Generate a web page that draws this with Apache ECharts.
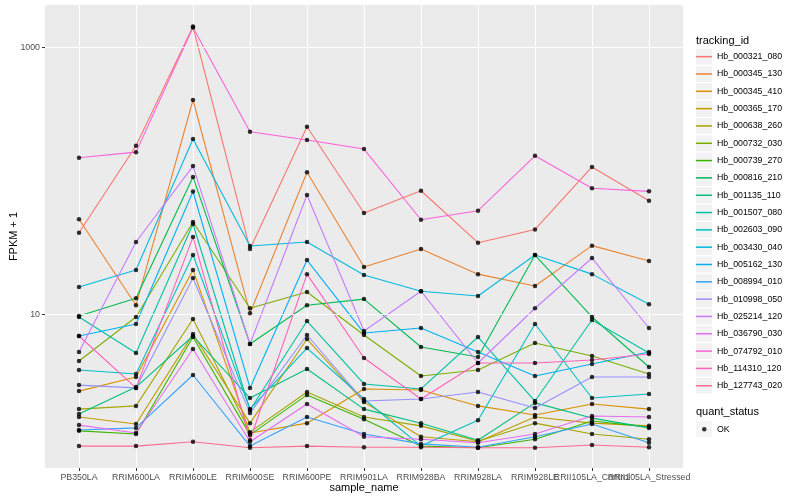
<!DOCTYPE html>
<html><head><meta charset="utf-8">
<script src="https://cdn.jsdelivr.net/npm/echarts@6/dist/echarts.min.js"></script>
<style>html,body{margin:0;padding:0;background:#fff}#c{width:800px;height:500px}</style>
</head><body><div id="c"></div>
<script>
const categories = ['PB350LA','RRIM600LA','RRIM600LE','RRIM600SE','RRIM600PE','RRIM901LA','RRIM928BA','RRIM928LA','RRIM928LE','RRII105LA_Control','RRII105LA_Stressed'];

const Hb_000321_080 = [40.8, 183, 1430, 30.8, 254, 57.4, 84.3, 34.4, 43.2, 127, 70.9];
const Hb_000345_130 = [51.5, 11.7, 403, 10.2, 116, 22.6, 30.8, 20.0, 16.3, 32.7, 25.1];
const Hb_000345_410 = [2.66, 3.39, 21.5, 1.29, 1.53, 2.76, 2.71, 2.06, 1.76, 2.13, 1.95];
const Hb_000365_170 = [1.70, 1.51, 7.11, 1.53, 6.53, 2.20, 1.21, 1.11, 1.70, 1.53, 1.46];
const Hb_000638_260 = [1.95, 2.06, 9.22, 1.31, 2.62, 1.70, 1.46, 1.12, 1.53, 1.27, 1.16];
const Hb_000732_030 = [4.47, 9.55, 49.1, 11.1, 14.7, 7.00, 3.45, 3.83, 6.10, 4.87, 3.57];
const Hb_000739_270 = [1.34, 1.27, 6.76, 1.25, 2.49, 1.64, 1.03, 1.00, 1.16, 1.59, 1.43];
const Hb_000816_210 = [9.70, 13.2, 107, 5.99, 11.7, 13.0, 5.69, 4.79, 27.8, 9.55, 4.03];
const Hb_001135_110 = [1.79, 2.85, 6.88, 2.36, 3.89, 1.95, 1.53, 1.14, 2.17, 1.67, 1.41];
const Hb_001507_080 = [9.55, 5.13, 47.5, 1.92, 8.91, 3.01, 2.76, 6.76, 2.24, 9.06, 5.13];
const Hb_002603_090 = [3.83, 3.57, 27.8, 1.95, 5.59, 2.32, 1.03, 1.61, 8.46, 2.36, 2.53];
const Hb_003430_040 = [16.0, 21.5, 206, 32.5, 34.8, 19.7, 14.9, 13.7, 27.8, 20.0, 11.9];
const Hb_005162_130 = [6.88, 8.46, 83.2, 2.81, 25.5, 7.24, 7.90, 5.22, 3.45, 4.24, 5.22];
const Hb_008994_010 = [1.36, 1.41, 3.51, 1.03, 1.70, 1.27, 1.07, 1.01, 1.21, 1.51, 1.09];
const Hb_010998_050 = [2.95, 2.81, 18.7, 1.82, 7.00, 2.24, 2.32, 2.62, 1.99, 3.39, 3.39];
const Hb_025214_120 = [5.22, 34.8, 129, 5.99, 78.3, 7.50, 14.9, 4.32, 11.1, 26.4, 7.90];
const Hb_036790_030 = [1.48, 1.29, 5.50, 1.11, 2.13, 1.21, 1.16, 1.09, 1.27, 1.73, 1.70];
const Hb_074792_010 = [149, 164, 1410, 233, 202, 173, 51.1, 59.7, 154, 87.9, 83.4];
const Hb_114310_120 = [6.88, 2.81, 37.9, 1.14, 20.0, 4.71, 2.32, 4.32, 4.32, 4.55, 5.04];
const Hb_127743_020 = [1.03, 1.03, 1.11, 1.00, 1.03, 1.01, 1.01, 1.00, 1.00, 1.05, 1.01];

const trackingIds = ['Hb_000321_080','Hb_000345_130','Hb_000345_410','Hb_000365_170','Hb_000638_260','Hb_000732_030','Hb_000739_270','Hb_000816_210','Hb_001135_110','Hb_001507_080','Hb_002603_090','Hb_003430_040','Hb_005162_130','Hb_008994_010','Hb_010998_050','Hb_025214_120','Hb_036790_030','Hb_074792_010','Hb_114310_120','Hb_127743_020'];
const seriesValues = [Hb_000321_080,Hb_000345_130,Hb_000345_410,Hb_000365_170,Hb_000638_260,Hb_000732_030,Hb_000739_270,Hb_000816_210,Hb_001135_110,Hb_001507_080,Hb_002603_090,Hb_003430_040,Hb_005162_130,Hb_008994_010,Hb_010998_050,Hb_025214_120,Hb_036790_030,Hb_074792_010,Hb_114310_120,Hb_127743_020];
const palette = ['#F8766D','#EA8331','#D89000','#C09B00','#A3A500','#7CAE00','#39B600','#00BB4E','#00BF7D','#00C1A3','#00BFC4','#00BAE0','#00B0F6','#35A2FF','#9590FF','#C77CFF','#E76BF3','#FA62DB','#FF62BC','#FF6C91'];
const yTickLabels = [10, 1000];
const quantStatus = 'OK';

const FONT = 'Liberation Sans, Arial, Helvetica, sans-serif';
const yMin = 0.706, yMax = 2075;

const chart = echarts.init(document.getElementById('c'), null, {renderer: 'canvas'});

const lineSeries = trackingIds.map((id, k) => ({
  name: id, type: 'line', xAxisIndex: 1, yAxisIndex: 1,
  data: seriesValues[k], showSymbol: false, symbol: 'none',
  lineStyle: {color: palette[k], width: 1.1}, itemStyle: {color: palette[k], borderWidth: 0},
  z: 3, silent: true, animation: false
}));

const pts = [];
seriesValues.forEach(vals => vals.forEach((v, i) => pts.push([i, v])));

const legendCommon = {
  orient: 'vertical', left: 696, top: 48, itemGap: 0, padding: 0, selectedMode: false,
  textStyle: {fontFamily: FONT, fontSize: 8.8, lineHeight: 17.32, color: '#000'}
};

const option = {
  animation: false,
  backgroundColor: '#fff',
  title: [
    {text: 'tracking_id', left: 696, top: 35.5, padding: 0, textStyle: {fontFamily: FONT, fontSize: 11, fontWeight: 'normal', color: '#000'}},
    {text: 'quant_status', left: 696, top: 406.5, padding: 0, textStyle: {fontFamily: FONT, fontSize: 11, fontWeight: 'normal', color: '#000'}}
  ],
  grid: [
    {left: 45, right: 117, top: 5, bottom: 32, show: true, backgroundColor: '#EBEBEB', borderWidth: 0, containLabel: false, outerBoundsMode: 'none'},
    {left: 79, right: 151, top: 5, bottom: 32, show: false, containLabel: false, outerBoundsMode: 'none'}
  ],
  xAxis: [
    {gridIndex: 0, type: 'value', min: 0, max: 1, show: false},
    {gridIndex: 1, type: 'category', data: categories, boundaryGap: false,
     axisLine: {show: false},
     axisTick: {show: true, length: 3, lineStyle: {color: '#333333', width: 1}},
     axisLabel: {interval: 0, color: '#4D4D4D', fontSize: 8.8, fontFamily: FONT, margin: 5, hideOverlap: false},
     splitLine: {show: true, interval: 0, lineStyle: {color: '#ffffff', width: 1.1}},
     name: 'sample_name', nameLocation: 'middle', nameGap: 14, nameMoveOverlap: false,
     nameTextStyle: {fontFamily: FONT, fontSize: 11, color: '#000'}}
  ],
  yAxis: [
    {gridIndex: 0, type: 'log', logBase: 10, min: yMin, max: yMax,
     axisLine: {show: false},
     axisTick: {show: true, length: 3, customValues: yTickLabels, lineStyle: {color: '#333333', width: 1}},
     axisLabel: {customValues: yTickLabels, color: '#4D4D4D', fontSize: 8.8, fontFamily: FONT, margin: 5,
       formatter: v => String(Math.round(v))},
     splitLine: {show: true, showMinLine: false, showMaxLine: false, lineStyle: {color: '#ffffff', width: 0.6}},
     name: 'FPKM + 1', nameLocation: 'middle', nameGap: 26, nameMoveOverlap: false,
     nameTextStyle: {fontFamily: FONT, fontSize: 11, color: '#000'}},
    {gridIndex: 1, type: 'log', logBase: 10, min: yMin, max: yMax, show: false, splitLine: {show: false}}
  ],
  legend: [
    Object.assign({}, legendCommon, {
      data: trackingIds.map(n => ({name: n, icon: 'rect', itemStyle: {color: '#F2F2F2', borderWidth: 0}})),
      itemWidth: 16, itemHeight: 16,
      textStyle: Object.assign({}, legendCommon.textStyle, {color: 'rgba(0,0,0,0)'})
    }),
    Object.assign({}, legendCommon, {
      data: trackingIds.map((n, k) => ({name: n, icon: 'rect', itemStyle: {color: palette[k], borderWidth: 0}})),
      itemWidth: 16, itemHeight: 1.5
    }),
    Object.assign({}, legendCommon, {
      top: 420.5,
      data: [{name: quantStatus, icon: 'rect', itemStyle: {color: '#F2F2F2', borderWidth: 0}}],
      itemWidth: 16, itemHeight: 16
    }),
    Object.assign({}, legendCommon, {
      top: 420.5, left: 702,
      data: [{name: quantStatus, icon: 'circle', itemStyle: {color: '#000', borderWidth: 0}}],
      itemWidth: 4.5, itemHeight: 4.5,
      textStyle: Object.assign({}, legendCommon.textStyle, {color: 'rgba(0,0,0,0)'})
    })
  ],
  series: [
    {name: 'majorGrid', type: 'line', xAxisIndex: 0, yAxisIndex: 0, data: [], z: 1, silent: true,
     markLine: {silent: true, symbol: ['none', 'none'], label: {show: false},
       lineStyle: {color: '#ffffff', width: 1.2, type: 'solid'},
       data: yTickLabels.map(v => ({yAxis: v}))}}
  ].concat(lineSeries).concat([
    {name: quantStatus, type: 'scatter', xAxisIndex: 1, yAxisIndex: 1, data: pts,
     symbol: 'circle', symbolSize: 4.5, itemStyle: {color: '#000'}, z: 5, silent: true}
  ])
};
chart.setOption(option);
</script></body></html>
